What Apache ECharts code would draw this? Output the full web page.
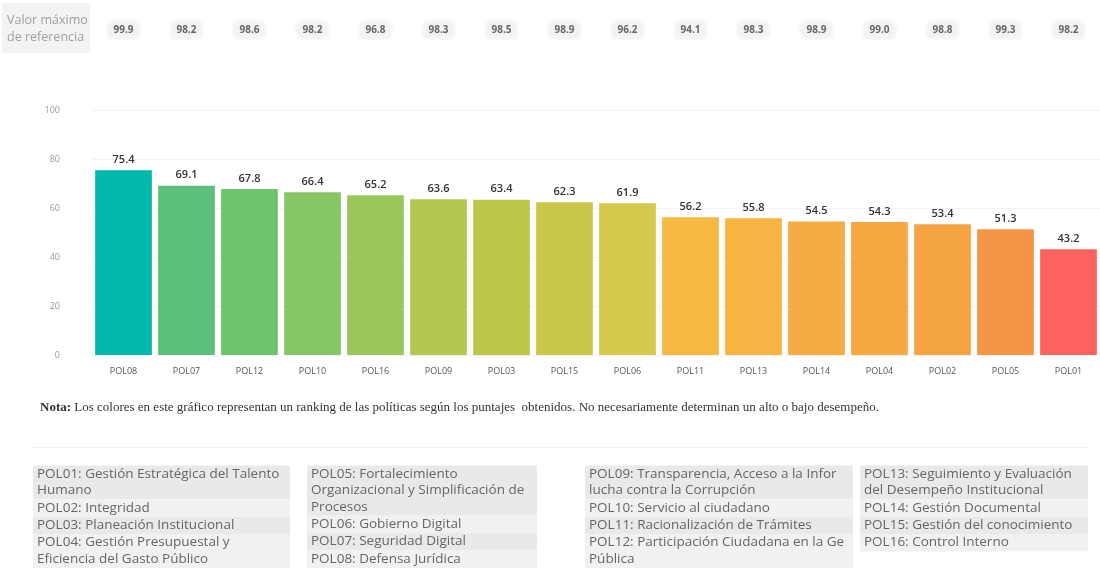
<!DOCTYPE html>
<html>
<head>
<meta charset="utf-8">
<script src="https://cdn.jsdelivr.net/npm/echarts@6/dist/echarts.min.js"></script>
<style>
  html, body { margin: 0; padding: 0; background: #fff; }
  #chart { width: 1100px; height: 583px; }
</style>
</head>
<body>
<div id="chart"></div>
<script>
const categories = ['POL08', 'POL07', 'POL12', 'POL10', 'POL16', 'POL09', 'POL03', 'POL15',
  'POL06', 'POL11', 'POL13', 'POL14', 'POL04', 'POL02', 'POL05', 'POL01'];
const scores = [75.4, 69.1, 67.8, 66.4, 65.2, 63.6, 63.4, 62.3, 61.9, 56.2, 55.8, 54.5, 54.3, 53.4, 51.3, 43.2];
const refMax = [99.9, 98.2, 98.6, 98.2, 96.8, 98.3, 98.5, 98.9, 96.2, 94.1, 98.3, 98.9, 99.0, 98.8, 99.3, 98.2];
const yMin = 0, yMax = 100, yStep = 20;

// texto de la leyenda, una lista por columna (cada entrada = líneas de una fila)
const legendCol1 = [
  ['POL01: Gestión Estratégica del Talento', 'Humano'],
  ['POL02: Integridad'],
  ['POL03: Planeación Institucional'],
  ['POL04: Gestión Presupuestal y', 'Eficiencia del Gasto Público']
];
const legendCol2 = [
  ['POL05: Fortalecimiento', 'Organizacional y Simplificación de', 'Procesos'],
  ['POL06: Gobierno Digital'],
  ['POL07: Seguridad Digital'],
  ['POL08: Defensa Jurídica']
];
const legendCol3 = [
  ['POL09: Transparencia, Acceso a la Información Pública y', 'lucha contra la Corrupción'],
  ['POL10: Servicio al ciudadano'],
  ['POL11: Racionalización de Trámites'],
  ['POL12: Participación Ciudadana en la Gestión', 'Pública']
];
const legendCol4 = [
  ['POL13: Seguimiento y Evaluación', 'del Desempeño Institucional'],
  ['POL14: Gestión Documental'],
  ['POL15: Gestión del conocimiento'],
  ['POL16: Control Interno']
];
const noteBold = 'Nota:';
const noteText = ' Los colores en este gráfico representan un ranking de las políticas según los puntajes  obtenidos. No necesariamente determinan un alto o bajo desempeño.';

const barColors = ['#01b8aa', '#5cc07c', '#6ec46c', '#86c664', '#9ac75a', '#b2c84f', '#bbc84c', '#c9c84b',
  '#d4c94c', '#f6b840', '#f7b442', '#f6ab43', '#f6a943', '#f5a443', '#f59546', '#fd625e'];

const chart = echarts.init(document.getElementById('chart'));

// leyenda de abajo
const legendGraphics = [];
const cols = [
  {x: 33, w: 257, rows: legendCol1},
  {x: 307, w: 230, rows: legendCol2},
  {x: 585, w: 268, rows: legendCol3},
  {x: 860, w: 228, rows: legendCol4}
];
const lineH = 16.4;
cols.forEach(col => {
  let y = 465.5;
  col.rows.forEach((lines, r) => {
    const h = lines.length * lineH + 1;
    legendGraphics.push({
      type: 'rect', shape: {x: col.x, y: y, width: col.w, height: h},
      style: {fill: r % 2 === 0 ? '#e9e9e9' : '#f1f1f1'}, silent: true
    });
    lines.forEach((t, k) => {
      legendGraphics.push({
        type: 'text', x: col.x + 4, y: y + 8.5 + k * lineH,
        style: {
          text: t, fill: '#666', font: '13.5px "Open Sans"', verticalAlign: 'middle',
          width: col.w - 6, overflow: 'truncate', ellipsis: ''
        },
        silent: true
      });
    });
    y += h;
  });
});

chart.setOption({
  backgroundColor: '#fff',
  animation: false,
  grid: [
    {left: 92, width: 1016, top: 110, height: 245},
    {left: 92, width: 1016, top: 20, height: 20}
  ],
  xAxis: [
    {
      type: 'category', data: categories, gridIndex: 0,
      axisLine: {show: false}, axisTick: {show: false},
      axisLabel: {color: '#555', fontSize: 9, fontFamily: 'Open Sans', margin: 12}
    },
    {
      type: 'category', data: categories, gridIndex: 1, show: false
    }
  ],
  yAxis: [
    {
      type: 'value', gridIndex: 0, min: yMin, max: yMax, interval: yStep,
      axisLine: {show: false}, axisTick: {show: false},
      axisLabel: {color: '#999', fontSize: 9, fontFamily: 'Open Sans', margin: 32},
      splitLine: {lineStyle: {color: '#f3f3f3'}}
    },
    {type: 'value', gridIndex: 1, min: -1, max: 1, show: false}
  ],
  graphic: [
    {type: 'rect', shape: {x: 2, y: 3, width: 88, height: 50}, style: {fill: '#f3f3f3'}, silent: true},
    {type: 'text', x: 7, y: 20, style: {text: 'Valor máximo', fill: '#a0a0a0', font: '12.5px "Open Sans"', verticalAlign: 'middle', width: 82, overflow: 'truncate', ellipsis: ''}},
    {type: 'text', x: 7, y: 37, style: {text: 'de referencia', fill: '#a0a0a0', font: '12.5px "Open Sans"', verticalAlign: 'middle', width: 82, overflow: 'truncate', ellipsis: ''}},
    {
      type: 'text', x: 40, y: 408,
      style: {
        text: '{b|' + noteBold + '}{n|' + noteText + '}',
        verticalAlign: 'middle',
        rich: {
          b: {font: 'bold 13px "Liberation Serif"', fill: '#333'},
          n: {font: '13px "Liberation Serif"', fill: '#333'}
        }
      }
    },
    {type: 'rect', shape: {x: 33, y: 447, width: 1055, height: 1}, style: {fill: '#f0f0f0'}, silent: true}
  ].concat(legendGraphics),
  series: [
    {
      type: 'bar', xAxisIndex: 0, yAxisIndex: 0,
      data: scores.map((v, i) => ({value: v, itemStyle: {color: barColors[i]}})),
      barCategoryGap: '10%',
      label: {
        show: true, position: 'top', distance: 5,
        color: '#333', fontSize: 11, fontFamily: 'Open Sans', fontWeight: 600,
        formatter: p => p.value.toFixed(1)
      }
    },
    {
      type: 'scatter', xAxisIndex: 1, yAxisIndex: 1,
      symbolSize: 1, itemStyle: {color: 'rgba(0,0,0,0)'},
      data: refMax.map((v, i) => [i, 0, v]),
      label: {
        show: true, position: 'inside',
        formatter: p => p.value[2].toFixed(1),
        color: '#444', fontSize: 10, fontWeight: 'bold', fontFamily: 'Open Sans',
        backgroundColor: '#f5f5f5', padding: [3, 5], borderRadius: 4,
        shadowBlur: 4, shadowColor: 'rgba(0,0,0,0.12)'
      }
    }
  ]
});
</script>
</body>
</html>
